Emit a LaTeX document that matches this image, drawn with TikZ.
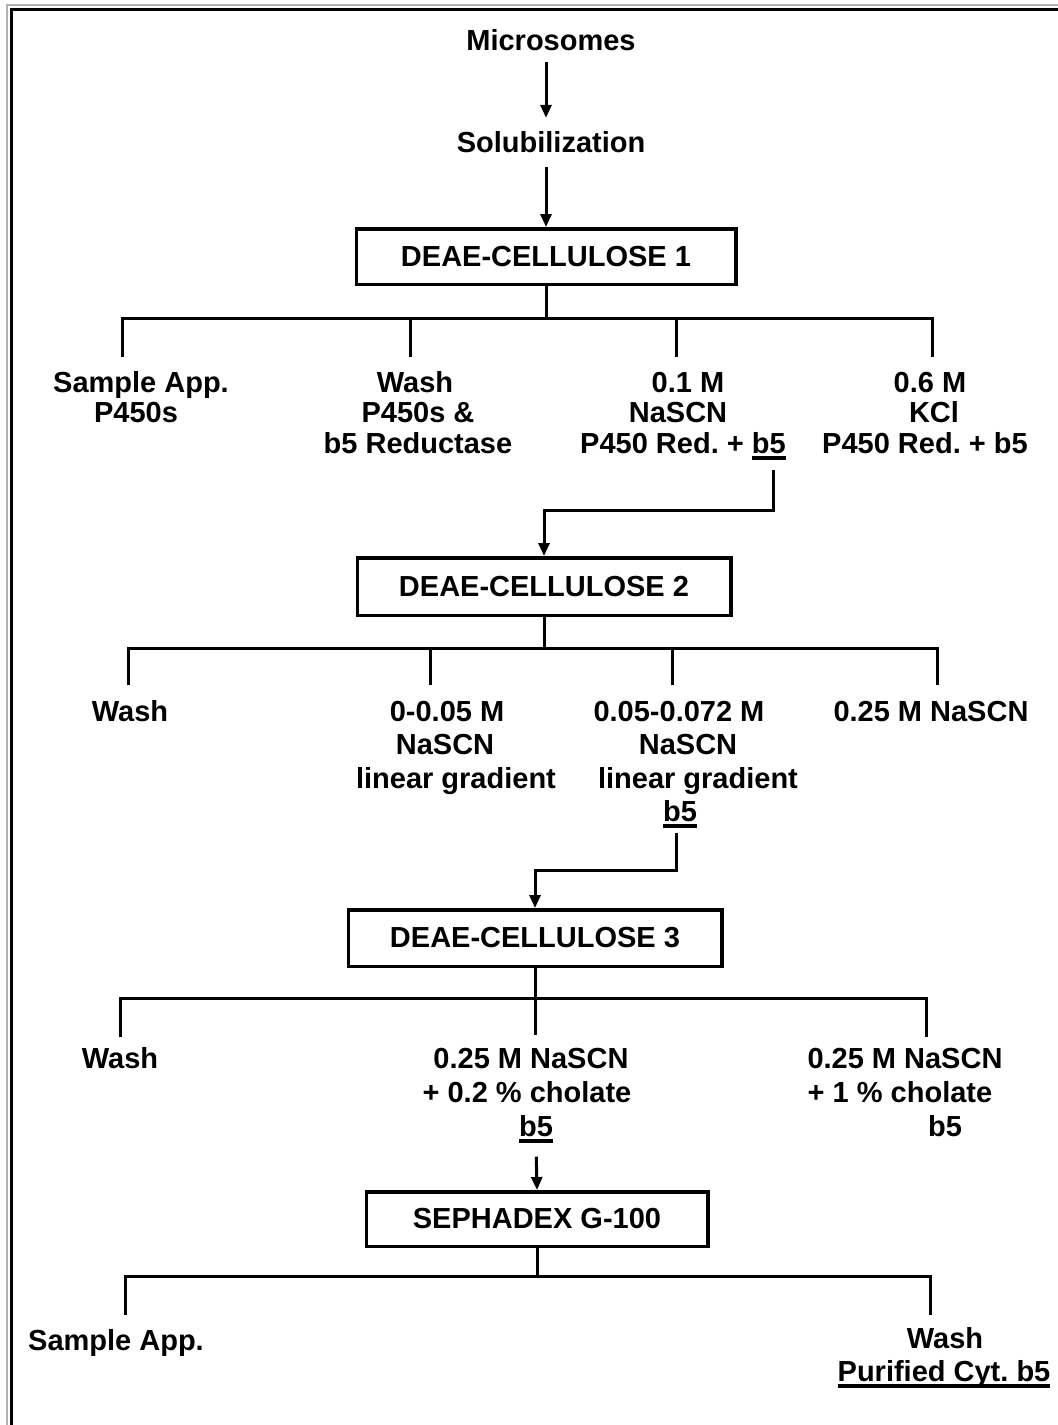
\documentclass[tikz,border=0pt]{standalone}
\usepackage{fontspec}
\setmainfont{Liberation Sans}
\usetikzlibrary{arrows.meta}
\frenchspacing
% thick underline placed just below the baseline
\newcommand\ulx[1]{\setbox0\hbox{#1}\leavevmode\rlap{\rule[-6.5pt]{\wd0}{3.5pt}}\copy0}

\begin{document}
\begin{tikzpicture}[x=1pt,y=-1pt,
  txt/.style={anchor=base, inner sep=0pt, font=\fontsize{29}{33}\selectfont\bfseries\frenchspacing},
  stage/.style={draw, line width=3.5pt, rectangle, inner sep=0pt,
    font=\fontsize{29}{33}\selectfont\bfseries},
  link/.style={line width=3pt},
  arr/.style={link, -{Triangle[length=13pt,width=11pt]}}]

\useasboundingbox (0,0) rectangle (1058,1425);
\fill[white] (0,0) rectangle (1058,1425);

% frame along the top and left edges
\draw[gray!60, line width=1.5pt] (7,1425) -- (7,5) -- (1058,5);
\draw[line width=3.5pt] (11.5,1425) -- (11.5,9.5) -- (1058,9.5);

% start of the procedure
\node[txt] (mic) at (551,50) {Microsomes};
\node[txt] (sol) at (551,152) {Solubilization};

% column stages
\node[stage, minimum width=379.5pt, minimum height=55.5pt] (d1) at (546,256.5) {DEAE-CELLULOSE 1};
\node[stage, minimum width=373.5pt, minimum height=57.5pt] (d2) at (544,586.5) {DEAE-CELLULOSE 2};
\node[stage, minimum width=373.5pt, minimum height=56.5pt] (d3) at (535,938) {DEAE-CELLULOSE 3};
\node[stage, minimum width=341.5pt, minimum height=54.5pt] (d4) at (537,1219) {SEPHADEX G-100};

\draw[arr, shorten <=12pt, shorten >=13pt] (mic.south -| d1.north) -- (sol.north -| d1.north);
\draw[arr, shorten <=15pt] (sol.south -| d1.north) -- (d1.north);

% fractions of DEAE-cellulose 1
\node[txt] (a1) at (141,392) {Sample App.};
\node[txt] (a2) at (136,422) {P450s};
\node[txt] (b1) at (415,392) {Wash};
\node[txt] (b2) at (418,422) {P450s \&};
\node[txt] (b3) at (418,453) {b5 Reductase};
\node[txt] (c1) at (688,392) {0.1 M};
\node[txt] (c2) at (678,422) {NaSCN};
\node[txt] (c3) at (683,453) {P450 Red. + \ulx{b5}};
\node[txt] (e1) at (930,392) {0.6 M};
\node[txt] (e2) at (934,422) {KCl};
\node[txt] (e3) at (925,453) {P450 Red. + b5};

\coordinate (j1a) at (122,318);
\coordinate (j1b) at (410,318);
\coordinate (j1c) at (676,318);
\coordinate (j1d) at (932,318);
\draw[link] (d1.south) -- (d1.south |- j1a);
\draw[link] (j1a) ++(0,39) -- (j1a) -- (j1d) -- ++(0,39);
\draw[link] (j1b) -- ++(0,39);
\draw[link] (j1c) -- ++(0,39);

\coordinate (t1) at (773,470);
\draw[arr] (t1) -- ++(0,40) -| (d2.north);

% fractions of DEAE-cellulose 2
\node[txt] (f1) at (130,721) {Wash};
\node[txt] (g1) at (447,721) {0-0.05 M};
\node[txt] (g2) at (445,754) {NaSCN};
\node[txt] (g3) at (456,788) {linear gradient};
\node[txt] (h1) at (679,721) {0.05-0.072 M};
\node[txt] (h2) at (688,754) {NaSCN};
\node[txt] (h3) at (698,788) {linear gradient};
\node[txt] (h4) at (680,821) {\ulx{b5}};
\node[txt] (k1) at (931,721) {0.25 M NaSCN};

\coordinate (j2a) at (128,648);
\coordinate (j2b) at (430,648);
\coordinate (j2c) at (672,648);
\coordinate (j2d) at (937,648);
\draw[link] (d2.south) -- (d2.south |- j2a);
\draw[link] (j2a) ++(0,37) -- (j2a) -- (j2d) -- ++(0,37);
\draw[link] (j2b) -- ++(0,37);
\draw[link] (j2c) -- ++(0,37);

\coordinate (t2) at (676,833);
\draw[arr] (t2) -- ++(0,37) -| (d3.north);

% fractions of DEAE-cellulose 3
\node[txt] (m1) at (120,1068) {Wash};
\node[txt] (n1) at (531,1068) {0.25 M NaSCN};
\node[txt] (n2) at (527,1102) {+ 0.2 \% cholate};
\node[txt] (n3) at (536,1136) {\ulx{b5}};
\node[txt] (p1) at (905,1068) {0.25 M NaSCN};
\node[txt] (p2) at (900,1102) {+ 1 \% cholate};
\node[txt] (p3) at (945,1136) {b5};

\coordinate (j3a) at (120,998);
\coordinate (j3d) at (926,998);
\draw[link] (d3.south) -- ++(0,67);
\draw[link] (j3a) ++(0,39) -- (j3a) -- (j3d) -- ++(0,39);

\draw[arr, shorten <=14pt] (n3.south) -- (d4.north);

% fractions of Sephadex G-100
\node[txt] (q1) at (116,1350) {Sample App.};
\node[txt] (r1) at (945,1348) {Wash};
\node[txt] (r2) at (944,1381) {\ulx{Purified Cyt. b5}};

\coordinate (j4a) at (125,1276);
\coordinate (j4d) at (930,1276);
\draw[link] (d4.south) -- (d4.south |- j4a);
\draw[link] (j4a) ++(0,39) -- (j4a) -- (j4d) -- ++(0,39);

\end{tikzpicture}
\end{document}
